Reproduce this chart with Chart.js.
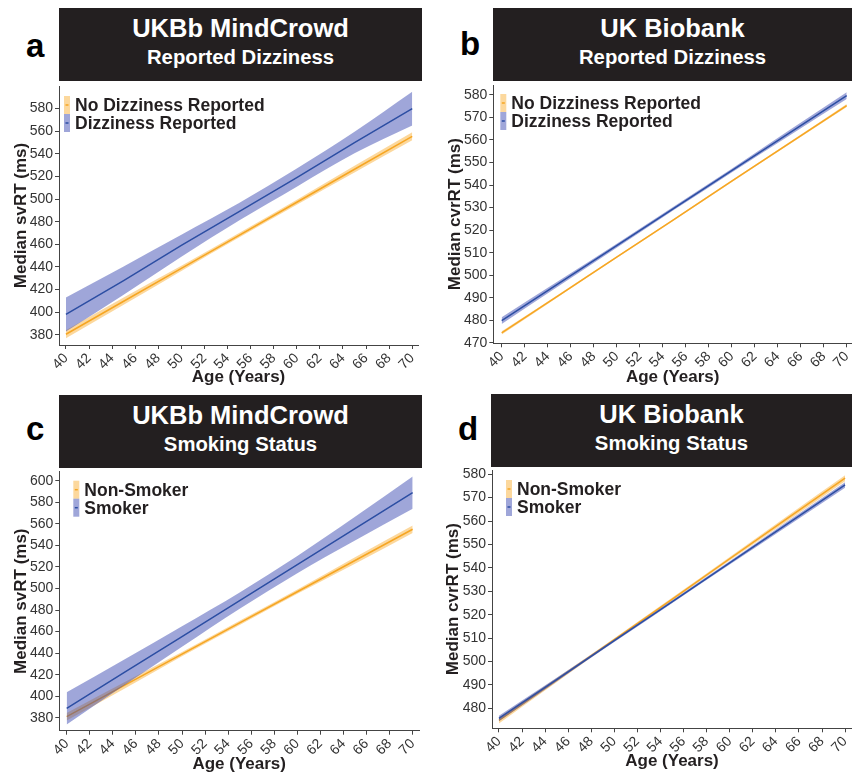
<!DOCTYPE html>
<html>
<head>
<meta charset="utf-8">
<script src="https://cdn.jsdelivr.net/npm/chart.js@4.4.0/dist/chart.umd.min.js"></script>
<style>
body { margin: 0; background: #fff; width: 852px; height: 775px; position: relative; overflow: hidden; font-family: 'Liberation Sans', Arial, sans-serif; }
.head { position: absolute; background: #231f20; color: #fff; font-weight: bold; text-align: center; }
.head .t { position: absolute; left: 0; right: 0; top: 6px; font-size: 25.5px; line-height: 28px; }
.head .s { position: absolute; left: 0; right: 0; top: 37px; font-size: 20.3px; line-height: 24px; }
.tag { position: absolute; font-size: 33px; font-weight: bold; line-height: 33px; color: #000; }
canvas { position: absolute; }
</style>
</head>
<body>
<div class="tag" style="left:26px;top:29px">a</div>
<div class="head" style="left:59px;top:8px;width:363px;height:73px"><div class="t">UKBb MindCrowd</div><div class="s">Reported Dizziness</div></div>
<div class="tag" style="left:460px;top:27px">b</div>
<div class="head" style="left:493px;top:8px;width:359px;height:73px"><div class="t">UK Biobank</div><div class="s">Reported Dizziness</div></div>
<div class="tag" style="left:26px;top:412px">c</div>
<div class="head" style="left:59px;top:395px;width:363px;height:73px"><div class="t">UKBb MindCrowd</div><div class="s">Smoking Status</div></div>
<div class="tag" style="left:458px;top:412px">d</div>
<div class="head" style="left:491px;top:394px;width:361px;height:73px"><div class="t">UK Biobank</div><div class="s">Smoking Status</div></div>

<canvas id="cA" width="422" height="306" style="left:0;top:84px"></canvas>
<canvas id="cB" width="422" height="307" style="left:430px;top:83px"></canvas>
<canvas id="cC" width="422" height="305" style="left:0;top:470px"></canvas>
<canvas id="cD" width="422" height="307" style="left:430px;top:468px"></canvas>

<script>
'use strict';

const ages = [40, 45, 50, 55, 60, 65, 70];
const xTicks = [40, 42, 44, 46, 48, 50, 52, 54, 56, 58, 60, 62, 64, 66, 68, 70];

// a: UKBb MindCrowd, reported dizziness (svRT)
const aNoDizzy   = [380.5, 409.7, 438.8, 468.0, 497.2, 526.4, 555.5];
const aNoDizzyLo = [377, 406.5, 436.5, 466, 495, 523.5, 552];
const aNoDizzyHi = [384, 413, 441, 470, 499.5, 529.5, 559];
const aDizzy     = [398, 428, 459, 489, 519, 550, 580];
const aDizzyLo   = [383, 415.5, 449, 481, 511, 540.5, 565];
const aDizzyHi   = [413, 440.5, 468.5, 496.5, 527, 559.5, 595];
const aYTicks = [380, 400, 420, 440, 460, 480, 500, 520, 540, 560, 580];

// b: UK Biobank, reported dizziness (cvrRT)
const bNoDizzy   = [474.4, 491.2, 508.0, 524.8, 541.7, 558.5, 575.3];
const bNoDizzyLo = [473.7, 490.7, 507.6, 524.4, 541.3, 558.0, 574.6];
const bNoDizzyHi = [475.1, 491.7, 508.4, 525.2, 542.1, 559.0, 576.0];
const bDizzy     = [479.9, 496.5, 513.1, 529.8, 546.4, 563.1, 579.7];
const bDizzyLo   = [478.4, 495.3, 512.2, 529.0, 545.6, 561.9, 578.2];
const bDizzyHi   = [481.4, 497.7, 514.0, 530.6, 547.2, 564.3, 581.2];
const bYTicks = [470, 480, 490, 500, 510, 520, 530, 540, 550, 560, 570, 580];

// c: UKBb MindCrowd, smoking status (svRT)
const cNonSmoker   = [381, 410, 439, 468, 497, 526, 555];
const cNonSmokerLo = [377.5, 407, 437, 466, 495, 523, 551.5];
const cNonSmokerHi = [384.5, 413, 441, 470, 499, 529, 558.5];
const cSmoker      = [388.7, 422.1, 455.4, 488.8, 522.2, 555.5, 588.9];
const cSmokerLo    = [373.7, 410.1, 445.9, 481.3, 514.2, 544.5, 573.9];
const cSmokerHi    = [403.7, 434.1, 464.9, 496.3, 530.2, 566.5, 603.9];
const cYTicks = [380, 400, 420, 440, 460, 480, 500, 520, 540, 560, 580, 600];

// d: UK Biobank, smoking status (cvrRT)
const dNonSmoker   = [474.9, 492.1, 509.4, 526.6, 543.9, 561.1, 578.3];
const dNonSmokerLo = [473.6, 491.2, 508.8, 526.0, 543.2, 560.0, 577.0];
const dNonSmokerHi = [476.2, 493.0, 510.0, 527.2, 544.6, 562.2, 579.6];
const dSmoker      = [475.7, 492.3, 508.9, 525.5, 542.1, 558.8, 575.4];
const dSmokerLo    = [474.5, 491.5, 508.3, 524.9, 541.4, 557.8, 574.2];
const dSmokerHi    = [476.9, 493.1, 509.5, 526.1, 542.8, 559.8, 576.6];
const dYTicks = [480, 490, 500, 510, 520, 530, 540, 550, 560, 570, 580];

const orangeLine = '#f6a623';
const orangeBand = 'rgba(249,168,37,0.45)';
const blueLine = '#2c4ea3';
const blueBand = 'rgba(55,70,175,0.48)';
const ink = '#231f20';

Chart.defaults.font.family = "'Liberation Sans', Arial, sans-serif";

const pts = vals => vals.map((v, i) => ({x: ages[i], y: v}));

// legend drawn inside the plot, ggplot style key (band + short line)
const legendKeys = {
    id: 'legendKeys',
    afterDraw(chart, args, opts) {
        const ctx = chart.ctx;
        const area = chart.chartArea;
        ctx.save();
        ctx.font = 'bold 17.5px "Liberation Sans", Arial, sans-serif';
        ctx.textBaseline = 'middle';
        opts.items.forEach((it, i) => {
            const cy = area.top + opts.y + i * opts.gap;
            const kx = area.left + opts.x;
            ctx.fillStyle = it.band;
            ctx.fillRect(kx, cy - opts.gap / 2, 6, opts.gap);
            ctx.fillStyle = it.line;
            ctx.fillRect(kx + 1.5, cy - 0.75, 3, 1.5);
            ctx.fillStyle = ink;
            ctx.fillText(it.label, kx + 11, cy + 1);
        });
        ctx.restore();
    }
};

function makePanel (id, p) {
    const band = {borderColor: 'transparent', pointRadius: 0, cubicInterpolationMode: 'monotone'};
    const datasets = [
        {...band, data: pts(p.oLo), fill: false, order: 4},
        {...band, data: pts(p.oHi), fill: 0, backgroundColor: orangeBand, order: 4},
        {data: pts(p.o), borderColor: orangeLine, borderWidth: 1.5, pointRadius: 0, fill: false, order: 3},
        {...band, data: pts(p.bLo), fill: false, order: 2},
        {...band, data: pts(p.bHi), fill: 3, backgroundColor: blueBand, order: 2},
        {data: pts(p.b), borderColor: blueLine, borderWidth: 1.5, pointRadius: 0, fill: false, order: 1}
    ];

    new Chart(document.getElementById(id), {
        type: 'line',
        data: {datasets: datasets},
        plugins: [legendKeys],
        options: {
            responsive: false,
            animation: false,
            layout: {padding: {top: p.padTop, right: p.padRight, left: 0, bottom: 0}},
            plugins: {
                legend: {display: false},
                tooltip: {enabled: false},
                legendKeys: {x: p.legX, y: p.legY, gap: 18, items: [
                    {label: p.oName, band: orangeBand, line: orangeLine},
                    {label: p.bName, band: blueBand, line: blueLine}
                ]}
            },
            scales: {
                x: {
                    type: 'linear',
                    min: p.xMin, max: p.xMax,
                    afterBuildTicks: s => { s.ticks = xTicks.map(v => ({value: v})); },
                    afterFit: s => { s.height = p.xH; s.paddingLeft = 0; s.paddingRight = 0; },
                    ticks: {minRotation: 45, maxRotation: 45, autoSkip: false, padding: 1, color: '#333', font: {size: 14}},
                    grid: {drawOnChartArea: false, tickLength: 4, color: '#444'},
                    border: {color: '#444', width: 1},
                    title: {display: true, text: 'Age (Years)', color: ink, font: {size: 17, weight: 'bold'}, padding: {top: 0, bottom: p.xTitlePad}}
                },
                y: {
                    type: 'linear',
                    min: p.yMin, max: p.yMax,
                    afterBuildTicks: s => { s.ticks = p.yTicks.map(v => ({value: v})); },
                    afterFit: s => { s.width = p.yW; s.paddingTop = 0; s.paddingBottom = 0; },
                    ticks: {padding: 2, color: '#333', font: {size: 14}},
                    grid: {drawOnChartArea: false, tickLength: 4, color: '#444'},
                    border: {color: '#444', width: 1},
                    title: {display: true, text: p.yTitle, color: ink, font: {size: 17, weight: 'bold'}, padding: {top: p.yTitlePad, bottom: 0}}
                }
            }
        }
    });
}

makePanel('cA', {
    o: aNoDizzy, oLo: aNoDizzyLo, oHi: aNoDizzyHi, b: aDizzy, bLo: aDizzyLo, bHi: aDizzyHi,
    oName: 'No Dizziness Reported', bName: 'Dizziness Reported', yTitle: 'Median svRT (ms)', yTicks: aYTicks,
    xMin: 39.4, xMax: 70.5, yMin: 371, yMax: 600,
    padTop: 2, padRight: 4, yW: 59, xH: 45, yTitlePad: 10.8, xTitlePad: 2, legX: 5, legY: 19
});

makePanel('cB', {
    o: bNoDizzy, oLo: bNoDizzyLo, oHi: bNoDizzyHi, b: bDizzy, bLo: bDizzyLo, bHi: bDizzyHi,
    oName: 'No Dizziness Reported', bName: 'Dizziness Reported', yTitle: 'Median cvrRT (ms)', yTicks: bYTicks,
    xMin: 39.27, xMax: 70.46, yMin: 469.8, yMax: 584.4,
    padTop: 2, padRight: 0, yW: 63.3, xH: 46.7, yTitlePad: 14.8, xTitlePad: 2, legX: 7, legY: 18
});

makePanel('cC', {
    o: cNonSmoker, oLo: cNonSmokerLo, oHi: cNonSmokerHi, b: cSmoker, bLo: cSmokerLo, bHi: cSmokerHi,
    oName: 'Non-Smoker', bName: 'Smoker', yTitle: 'Median svRT (ms)', yTicks: cYTicks,
    xMin: 39.36, xMax: 70.55, yMin: 368, yMax: 608.4,
    padTop: 1.7, padRight: 3, yW: 59.3, xH: 44.3, yTitlePad: 10.8, xTitlePad: 0, legX: 14, legY: 18
});

makePanel('cD', {
    o: dNonSmoker, oLo: dNonSmokerLo, oHi: dNonSmokerHi, b: dSmoker, bLo: dSmokerLo, bHi: dSmokerHi,
    oName: 'Non-Smoker', bName: 'Smoker', yTitle: 'Median cvrRT (ms)', yTicks: dYTicks,
    xMin: 39.4, xMax: 70.6, yMin: 471.5, yMax: 581.8,
    padTop: 2, padRight: 0, yW: 62, xH: 46.7, yTitlePad: 12.8, xTitlePad: 3, legX: 14, legY: 19
});
</script>
</body>
</html>
